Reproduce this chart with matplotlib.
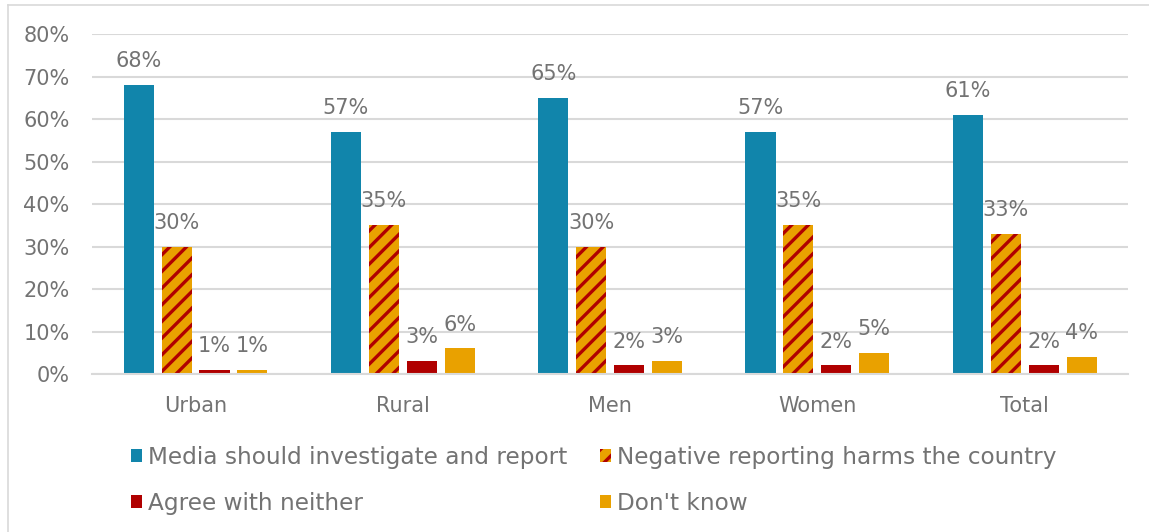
import numpy as np
import matplotlib
matplotlib.use("Agg")
import matplotlib.pyplot as plt
from matplotlib.lines import Line2D

plt.rcParams['font.family'] = ['DejaVu Sans']
plt.rcParams['hatch.linewidth'] = 2.4

categories = ['Urban', 'Rural', 'Men', 'Women', 'Total']
series_names = ['Media should investigate and report', 'Negative reporting harms the country',
                'Agree with neither', "Don't know"]
investigate = [68, 57, 65, 57, 61]
harms = [30, 35, 30, 35, 33]
neither = [1, 3, 2, 2, 2]
dont_know = [1, 6, 3, 5, 4]

blue = '#1185AB'
red = '#B00000'
orange = '#E9A100'
text_gray = '#737373'

fig = plt.figure(figsize=(11.49, 5.32), dpi=100)
ax = fig.add_axes([0.080, 0.297, 0.902, 0.639])

x = np.arange(len(categories))
w = 0.145
step = 0.183
series = [investigate, harms, neither, dont_know]
colors = [blue, orange, red, orange]
offsets = [-1.5, -0.5, 0.5, 1.5]
handles = []
for i, (vals, off, name) in enumerate(zip(series, offsets, series_names)):
    if i == 1:
        bars = ax.bar(x + off * step, vals, w, color=orange, edgecolor=red,
                      hatch='//', linewidth=0, label=name)
    else:
        bars = ax.bar(x + off * step, vals, w, color=colors[i], label=name)
    handles.append(bars)
    for b, v in zip(bars, vals):
        ax.text(b.get_x() + b.get_width() / 2, v + 4.2, f'{v}%', ha='center', va='baseline',
                fontsize=15, color=text_gray)

ax.set_xlim(-0.5, 4.5)
ax.set_ylim(0, 80)
ax.set_yticks(range(0, 81, 10))
ax.set_yticklabels([f'{t}%' for t in range(0, 81, 10)])
ax.set_xticks(x)
ax.set_xticklabels(categories)
ax.tick_params(axis='both', length=0, labelsize=15, labelcolor=text_gray)
ax.tick_params(axis='x', pad=16)
ax.tick_params(axis='y', pad=16)
ax.grid(axis='y', color='#d9d9d9', linewidth=1.5)
ax.set_axisbelow(True)
for s in ['top', 'right', 'left']:
    ax.spines[s].set_visible(False)
ax.spines['bottom'].set_color('#d9d9d9')
ax.spines['bottom'].set_linewidth(1.5)

# legend is filled column by column, so reorder to get row-wise layout
order = [0, 2, 1, 3]
leg = fig.legend(handles=[handles[i] for i in order], labels=[series_names[i] for i in order],
                 loc='upper left', bbox_to_anchor=(0.106, 0.18), ncol=2, frameon=False,
                 fontsize=16.7, handlelength=0.48, handleheight=0.48, handletextpad=0.25,
                 columnspacing=1.4, labelspacing=1.0, borderaxespad=0)
for t in leg.get_texts():
    t.set_color(text_gray)

# outer chart border (left and top edges only are visible)
fig.add_artist(Line2D([8 / 1149, 8 / 1149], [0, 1 - 5 / 532], transform=fig.transFigure,
                      color='#d9d9d9', linewidth=1.2))
fig.add_artist(Line2D([8 / 1149, 1], [1 - 5 / 532, 1 - 5 / 532], transform=fig.transFigure,
                      color='#d9d9d9', linewidth=1.2))

fig.savefig('out.png', dpi=100)
